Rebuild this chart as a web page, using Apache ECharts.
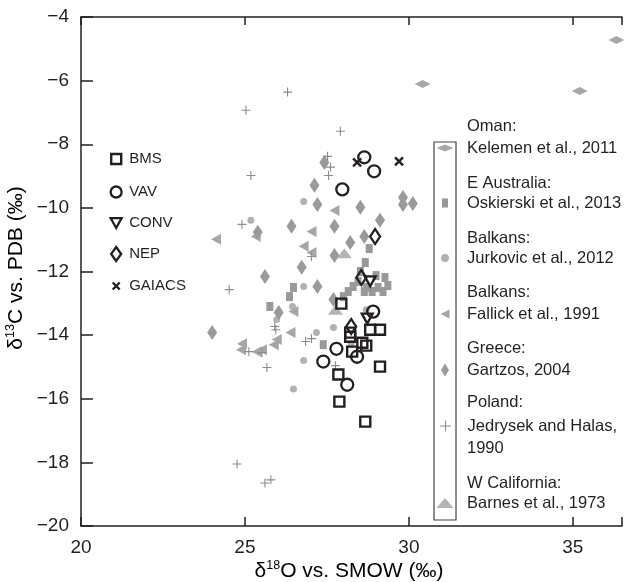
<!DOCTYPE html>
<html>
<head>
<meta charset="utf-8">
<script src="https://cdn.jsdelivr.net/npm/echarts@6/dist/echarts.min.js"></script>
<style>
  html, body { margin: 0; padding: 0; background: #fff; }
  #chart { width: 625px; height: 582px; }
</style>
</head>
<body>
<div id="chart"></div>
<script>
// Axis ranges / ticks
const X_MIN = 20, X_MAX = 36.5, X_STEP = 5;
const Y_MIN = -20, Y_MAX = -4, Y_STEP = 2;

// Literature data (d18O, d13C)
const omanPts = [[30.42, -6.11], [35.21, -6.33], [36.33, -4.72]];
const oskierskiPts = [[28.79, -11.28], [28.67, -11.72], [29.27, -12.19], [29.0, -12.13], [28.52, -12.0],
  [28.45, -12.31], [28.3, -12.47], [28.15, -12.63], [28.0, -12.79], [28.64, -12.63], [28.7, -12.5],
  [28.88, -12.63], [29.06, -12.5], [29.21, -12.63], [29.36, -12.44], [26.48, -12.5], [26.36, -12.79],
  [25.76, -13.1], [27.39, -14.3]];
const jurkovicPts = [[25.18, -10.39], [26.79, -9.8], [26.79, -12.47], [26.45, -13.1], [25.97, -13.51],
  [27.7, -13.76], [27.18, -13.92], [26.79, -14.8], [26.48, -15.69], [28.7, -13.2], [28.24, -14.27]];
const fallickPts = [[24.12, -10.99], [25.33, -10.9], [27.03, -10.74], [27.73, -10.08], [26.79, -11.21],
  [27.03, -11.4], [26.48, -13.26], [26.39, -13.92], [25.97, -14.14], [25.88, -14.3], [25.52, -14.46],
  [25.36, -14.52], [24.91, -14.27], [24.88, -14.46]];
const gartzosPts = [[27.42, -8.57], [27.12, -9.29], [27.21, -9.89], [28.52, -9.98], [29.82, -9.67],
  [29.82, -9.89], [30.12, -9.86], [26.42, -10.58], [27.73, -10.58], [29.12, -10.39], [28.64, -10.9],
  [28.21, -11.09], [27.73, -11.5], [26.73, -11.87], [25.39, -10.77], [25.61, -12.16], [24.0, -13.92],
  [26.03, -13.29], [27.21, -12.47], [27.7, -12.88]];
const jedrysekPts = [[25.03, -6.93], [26.3, -6.36], [27.91, -7.59], [27.52, -8.38], [27.61, -8.72],
  [27.55, -8.98], [25.18, -8.98], [24.91, -10.52], [27.03, -11.53], [24.52, -12.57], [25.91, -13.73],
  [25.94, -13.83], [25.12, -14.52], [25.52, -14.55], [26.85, -14.2], [27.03, -14.11], [25.67, -15.02],
  [27.76, -14.96], [24.76, -18.05], [25.61, -18.65], [25.79, -18.55]];
const barnesPts = [[28.03, -11.43], [27.76, -13.2]];

// This study
const bmsPts = [[27.94, -13.01], [28.82, -13.83], [29.12, -13.83], [28.21, -13.92], [28.21, -14.05],
  [28.58, -14.24], [28.7, -14.33], [28.27, -14.52], [29.12, -14.99], [27.85, -15.24], [27.88, -16.09],
  [28.67, -16.72]];
const vavPts = [[28.64, -8.41], [28.94, -8.85], [27.97, -9.42], [28.91, -13.26], [27.79, -14.43],
  [28.42, -14.68], [27.39, -14.83], [28.12, -15.56]];
const convPts = [[28.82, -12.31], [28.73, -13.48]];
const nepPts = [[28.97, -10.9], [28.55, -12.19], [28.24, -13.73]];
const gaiacsPts = [[28.42, -8.57], [29.7, -8.54]];

const sampleNames = ["BMS", "VAV", "CONV", "NEP", "GAIACS"];
const sampleData = [bmsPts, vavPts, convPts, nepPts, gaiacsPts];

const sourceRegions = ["Oman:", "E Australia:", "Balkans:", "Balkans:", "Greece:", "Poland:", "W California:"];
const sourceRefs = ["Kelemen et al., 2011", "Oskierski et al., 2013", "Jurkovic et al., 2012",
  "Fallick et al., 1991", "Gartzos, 2004", "Jedrysek and Halas,\n1990", "Barnes et al., 1973"];
const sourceData = [omanPts, oskierskiPts, jurkovicPts, fallickPts, gartzosPts, jedrysekPts, barnesPts];

// Styles
const INK = "#231f20";
const FONT = "'Liberation Sans', Arial, sans-serif";
const TRI_DOWN = "path://M0,0L10,0L5,9Z";
const TRI_LEFT = "path://M0,5L10,0L10,10Z";
const CROSS = "path://M0,0L10,10M10,0L0,10";
const PLUS = "path://M5,0L5,10M0,5L10,5";

const sampleLook = [
  { symbol: "rect", size: [10, 10], fill: "transparent", stroke: INK, lw: 2.4, icon: [10, 10] },
  { symbol: "circle", size: [12, 12], fill: "transparent", stroke: INK, lw: 2.3, icon: [11, 11] },
  { symbol: TRI_DOWN, size: [11, 10], fill: "transparent", stroke: INK, lw: 2.3, icon: [11, 10] },
  { symbol: "diamond", size: [10, 15], fill: "transparent", stroke: INK, lw: 2.3, icon: [10, 14] },
  { symbol: CROSS, size: [8, 8], fill: "transparent", stroke: INK, lw: 2.4, icon: [7, 7] }
];
const sourceLook = [
  { symbol: "diamond", size: [16, 8], fill: "#a8a8a8", stroke: "none", lw: 0, icon: [17, 7] },
  { symbol: "rect", size: [7, 9], fill: "#999999", stroke: "none", lw: 0, icon: [6, 9] },
  { symbol: "circle", size: [7, 7], fill: "#b2b2b2", stroke: "none", lw: 0, icon: [8, 8] },
  { symbol: TRI_LEFT, size: [10, 11], fill: "#a6a6a6", stroke: "none", lw: 0, icon: [9, 10] },
  { symbol: "diamond", size: [10, 15], fill: "#9a9a9a", stroke: "none", lw: 0, icon: [8, 13] },
  { symbol: PLUS, size: [9, 9], fill: "transparent", stroke: "#8c8c8c", lw: 1.1, icon: [11, 11] },
  { symbol: "triangle", size: [15, 10], fill: "#b4b4b4", stroke: "none", lw: 0, icon: [17, 10] }
];

const sampleLegendY = [159, 192, 223, 254, 286];
const sourceLegendY = [148, 203, 258, 314, 370, 426, 503];
const regionLabelY = [126, 183, 238, 292, 348, 402, 483];

function scatterSeries(name, data, look, z) {
  return {
    type: "scatter", name: name, data: data, z: z, silent: true,
    symbol: look.symbol, symbolSize: look.size,
    itemStyle: { color: look.fill, borderColor: look.stroke, borderWidth: look.lw, opacity: 1 },
    emphasis: { disabled: true }
  };
}

function legendFor(name, look, cx, cy, textX, fontSize, lineHeight) {
  const w = look.icon[0];
  return {
    data: [name], left: cx - w / 2, top: cy - lineHeight / 2, padding: 0,
    orient: "vertical", itemGap: 0, selectedMode: false,
    itemWidth: w, itemHeight: look.icon[1],
    itemStyle: { color: look.fill, borderColor: look.stroke, borderWidth: look.lw },
    formatter: n => n.split("\n")[0],
    textStyle: { fontFamily: FONT, fontSize: fontSize, lineHeight: lineHeight, color: INK,
      padding: [0, 0, 0, textX - cx - w / 2 - 5] }
  };
}

const series = [];
const legends = [];
sourceRefs.forEach((ref, i) => {
  series.push(scatterSeries(ref, sourceData[i], sourceLook[i], 2));
  legends.push(legendFor(ref, sourceLook[i], 445, sourceLegendY[i], 467, 16.5, 20));
});
sampleNames.forEach((nm, i) => {
  series.push(scatterSeries(nm, sampleData[i], sampleLook[i], 5));
  legends.push(legendFor(nm, sampleLook[i], 115, sampleLegendY[i], 128, 15, 18));
});

const titleRich = {
  a: { fontFamily: FONT, fontSize: 21, lineHeight: 24, color: INK },
  s: { fontFamily: FONT, fontSize: 12.5, lineHeight: 14, color: INK, verticalAlign: "top" }
};

const graphics = [
  { type: "rect", shape: { x: 434, y: 142, width: 22, height: 378 },
    style: { fill: "none", stroke: "#444", lineWidth: 1.2 } },
  { type: "text", x: 467, y: 448,
    style: { text: "1990", fill: INK, fontFamily: FONT, fontSize: 16.5, verticalAlign: "middle" } },
  { type: "text", x: 349, y: 571,
    style: { text: "{a|δ}{s|18}{a|O vs. SMOW (‰)}", align: "center", verticalAlign: "middle", rich: titleRich } },
  { type: "text", x: 16, y: 268, rotation: Math.PI / 2,
    style: { text: "{a|δ}{s|13}{a|C vs. PDB (‰)}", align: "center", verticalAlign: "middle", rich: titleRich } }
];
sourceRegions.forEach((r, i) => {
  graphics.push({ type: "text", x: 467, y: regionLabelY[i],
    style: { text: r, fill: INK, fontFamily: FONT, fontSize: 16.5, verticalAlign: "middle" } });
});

const minus = v => (v < 0 ? "\u2212" + Math.abs(v) : String(v));
const axisLine = { show: true, lineStyle: { color: INK, width: 1.5 } };

const chart = echarts.init(document.getElementById("chart"), null, { renderer: "canvas" });
chart.setOption({
  animation: false,
  backgroundColor: "#fff",
  grid: { left: 81, right: 0, top: 17, bottom: 56 },
  xAxis: [
    { type: "value", position: "bottom", min: X_MIN, max: X_MAX, interval: X_STEP,
      axisLine: axisLine, splitLine: { show: false },
      axisTick: { inside: true, length: 9, lineStyle: { color: INK, width: 1.5 } },
      axisLabel: { margin: 12, fontFamily: FONT, fontSize: 19, color: INK,
        formatter: v => (v % X_STEP === 0 ? String(v) : "") } },
    { type: "value", position: "top", min: X_MIN, max: X_MAX, interval: X_STEP,
      axisLine: axisLine, splitLine: { show: false },
      axisTick: { inside: true, length: 8, lineStyle: { color: INK, width: 1.5 } },
      axisLabel: { show: false } }
  ],
  yAxis: {
    type: "value", min: Y_MIN, max: Y_MAX, interval: Y_STEP,
    axisLine: axisLine, splitLine: { show: false },
    axisTick: { inside: true, length: 12, lineStyle: { color: INK, width: 1.5 } },
    axisLabel: { margin: 12, fontFamily: FONT, fontSize: 19, color: INK, formatter: minus }
  },
  legend: legends,
  graphic: graphics,
  series: series
});
</script>
</body>
</html>
